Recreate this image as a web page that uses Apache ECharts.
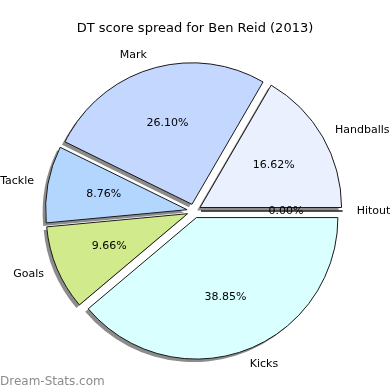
<!DOCTYPE html>
<html>
<head>
<meta charset="utf-8">
<script src="https://cdn.jsdelivr.net/npm/echarts@6/dist/echarts.min.js"></script>
<style>
html,body{margin:0;padding:0;background:#fff;}
#c{width:390px;height:390px;}
</style>
</head>
<body>
<div id="c"></div>
<script>
const categories = ['Hitout', 'Handballs', 'Mark', 'Tackle', 'Goals', 'Kicks'];
const percents = [0.00, 16.62, 26.10, 8.76, 9.66, 38.85];
const colors = ['#d9ffff', '#eaf0fe', '#c4d8ff', '#b3d6ff', '#d1eb8c', '#d9ffff'];
const titleText = 'DT score spread for Ben Reid (2013)';
const watermark = 'Dream-Stats.com';

const R = 141.5;
const center = [194, 211];
const explode = 7;
const font = 'DejaVu Sans';

const base = {
  type: 'pie',
  center: center,
  startAngle: 0,
  clockwise: false,
  selectedMode: 'multiple',
  selectedOffset: explode,
  avoidLabelOverlap: false,
  minShowLabelAngle: -1,
  silent: true
};

const fillData = categories.map((c, i) => ({
  name: c, value: percents[i], selected: true,
  itemStyle: { color: colors[i] }
}));
const plainData = categories.map((c, i) => ({
  name: c, value: percents[i], selected: true
}));

const chart = echarts.init(document.getElementById('c'), null, {renderer: 'canvas'});
chart.setOption({
  animation: false,
  backgroundColor: '#ffffff',
  title: {
    text: titleText, left: 'center', top: 17,
    textStyle: {fontFamily: font, fontSize: 13, fontWeight: 'normal', color: '#000'}
  },
  graphic: [{
    type: 'text', left: 0, bottom: 2,
    style: {text: watermark, fontFamily: font, fontSize: 12, fontWeight: 'normal', fill: '#8c8c8c'}
  }],
  series: [Object.assign({}, base, {
    radius: [0, R],
    itemStyle: {
      borderWidth: 0,
      shadowColor: 'rgba(0,0,0,0.45)', shadowBlur: 0, shadowOffsetX: -3, shadowOffsetY: 3
    },
    select: {itemStyle: {borderWidth: 0}},
    label: {show: false},
    labelLine: {show: false},
    data: fillData
  }), Object.assign({}, base, {
    radius: [0, R],
    itemStyle: {color: 'rgba(0,0,0,0)', borderColor: '#1a1a1a', borderWidth: 1},
    select: {itemStyle: {color: 'rgba(0,0,0,0)', borderColor: '#1a1a1a', borderWidth: 1}, label: {color: '#000'}},
    label: {
      show: true, position: 'outside',
      formatter: '{b}',
      fontFamily: font, fontSize: 11, color: '#000'
    },
    labelLine: {show: false, length: R * 0.1, length2: -5},
    data: plainData
  }), Object.assign({}, base, {
    radius: [0, 2 * (R * 0.6 - 3)],
    itemStyle: {color: 'rgba(0,0,0,0)', borderWidth: 0},
    select: {itemStyle: {color: 'rgba(0,0,0,0)', borderWidth: 0}, label: {color: '#000'}},
    label: {
      show: true, position: 'inside',
      formatter: p => p.value.toFixed(2) + '%',
      fontFamily: font, fontSize: 11, color: '#000'
    },
    labelLine: {show: false},
    data: plainData
  })]
});
</script>
</body>
</html>
